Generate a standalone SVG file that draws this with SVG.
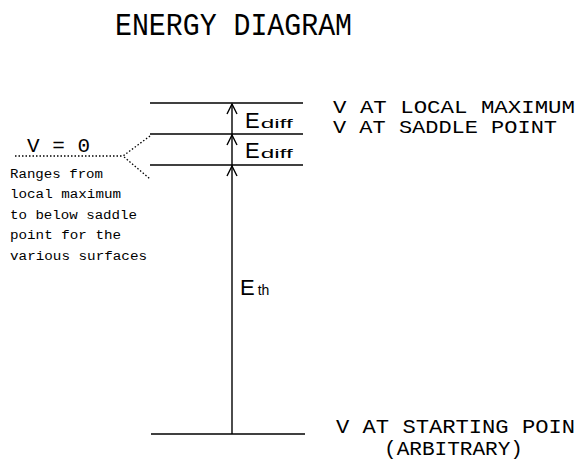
<svg xmlns="http://www.w3.org/2000/svg" width="575" height="476" viewBox="0 0 575 476">
<style>
.t{font-family:"Liberation Sans",Arial,sans-serif;fill:#000}
.m{font-family:"Liberation Mono","DejaVu Sans Mono",monospace;fill:#000}
.lvl{stroke:#000;stroke-width:1.6;fill:none}
.dot{stroke:#000;stroke-width:1.3;stroke-dasharray:1.5 2;fill:none}
.arr{stroke:#000;stroke-width:1.4;fill:none}
</style>
<rect width="575" height="476" fill="#fff"/>
<text class="m" x="115" y="35" font-size="31" textLength="237" lengthAdjust="spacingAndGlyphs">ENERGY DIAGRAM</text>
<g id="level-max">
<line class="lvl" x1="150" y1="103" x2="303" y2="103"/>
</g>
<g id="level-local">
<line class="lvl" x1="150" y1="134" x2="303" y2="134"/>
<text class="m" x="333" y="113" font-size="19" textLength="242" lengthAdjust="spacingAndGlyphs">V AT LOCAL MAXIMUM</text>
</g>
<g id="level-saddle">
<line class="lvl" x1="150" y1="165" x2="303" y2="165"/>
<text class="m" x="333" y="133" font-size="19" textLength="224" lengthAdjust="spacingAndGlyphs">V AT SADDLE POINT</text>
</g>
<g id="level-start">
<line class="lvl" x1="151" y1="434" x2="305" y2="434"/>
<text class="m" x="336" y="433" font-size="20" textLength="239" lengthAdjust="spacingAndGlyphs">V AT STARTING POIN</text>
<text class="m" x="384" y="455" font-size="20" textLength="139" lengthAdjust="spacingAndGlyphs">(ARBITRARY)</text>
</g>
<g id="v0">
<text class="m" x="27" y="152" font-size="20" textLength="63" lengthAdjust="spacingAndGlyphs">V = 0</text>
<text class="m" x="10" y="178" font-size="12" textLength="93" lengthAdjust="spacingAndGlyphs">Ranges from</text>
<text class="m" x="10" y="198" font-size="12" textLength="111" lengthAdjust="spacingAndGlyphs">local maximum</text>
<text class="m" x="10" y="219" font-size="12" textLength="127" lengthAdjust="spacingAndGlyphs">to below saddle</text>
<text class="m" x="10" y="239" font-size="12" textLength="111" lengthAdjust="spacingAndGlyphs">point for the</text>
<text class="m" x="10" y="260" font-size="12" textLength="137" lengthAdjust="spacingAndGlyphs">various surfaces</text>
</g>
<g id="connectors">
<polyline class="dot" points="15,156 123,156"/>
<polyline class="dot" points="150,136 123,156 150,179"/>
<line class="arr" x1="232" y1="434" x2="232" y2="104"/>
<polyline class="arr" points="227,114 232,104 237,114"/>
<polyline class="arr" points="227,145 232,135 237,145"/>
<polyline class="arr" points="227,176 232,166 237,176"/>
</g>
<g id="labels">
<text class="t" x="245" y="128" font-size="22">E<tspan font-size="13" dx="1" textLength="32" lengthAdjust="spacingAndGlyphs">diff</tspan></text>
<text class="t" x="245" y="158" font-size="22">E<tspan font-size="13" dx="1" textLength="32" lengthAdjust="spacingAndGlyphs">diff</tspan></text>
<text class="t" x="240" y="295" font-size="22">E<tspan font-size="14" dx="3">th</tspan></text>
</g>
</svg>
